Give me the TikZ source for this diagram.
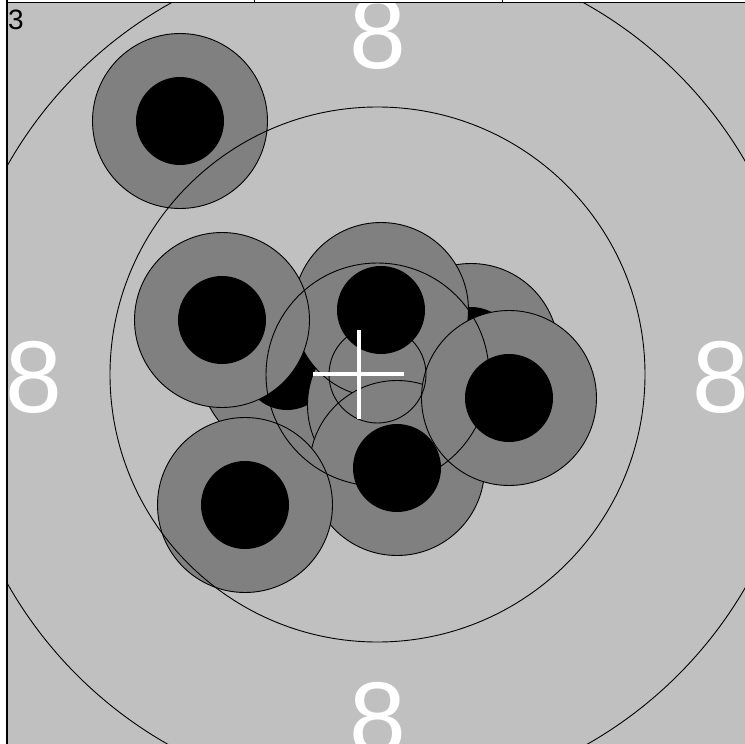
\documentclass[tikz,border=0pt]{standalone}
\usepackage{fontspec}
\setmainfont{Liberation Sans}
\definecolor{lightgr}{gray}{0.7529}
\definecolor{shotgr}{gray}{0.502}
\begin{document}
\begin{tikzpicture}[x=1pt,y=-1pt,
  shotdisc/.style={fill=shotgr, draw=black, line width=0.9pt},
  holedisc/.style={fill=black},
  ringline/.style={draw=black, line width=0.9pt},
  ringlabel/.style={text=white, font=\fontsize{102}{102}\selectfont, inner sep=0pt, anchor=base},
  crossline/.style={draw=white, line width=4pt}]
\useasboundingbox (0,0) rectangle (745,744);
\fill[white] (0,0) rectangle (745,744);
\begin{scope}
  \clip (7,2) rectangle (745,744);
  \fill[lightgr] (7,2) rectangle (745,744);
  % shots, in the order they were drawn
  \foreach \sx/\sy in {180/121, 471/351, 287/366, 395/405, 381/310, 222/320, 397/468, 245/505, 509/398}{
    \filldraw[shotdisc] (\sx,\sy) circle[radius=87.5pt];
    \fill[holedisc] (\sx,\sy) circle[radius=44pt];
  }
  % target rings
  \coordinate (tc) at (377.5,374.5);
  \draw[ringline] (tc) circle[radius=425pt];
  \draw[ringline] (tc) circle[radius=267.5pt];
  \draw[ringline] (tc) circle[radius=111.5pt];
  \draw[ringline] (tc) circle[radius=48.5pt];
  % ring labels
  \node[ringlabel] (ltop) at (378,68) {8};
  \node[ringlabel] (lleft) at (34,412) {8};
  \node[ringlabel] (lright) at (721,412) {8};
  \node[ringlabel] (lbottom) at (378,753) {8};
  % mean point of impact
  \coordinate (mh1) at (313,374.3);
  \coordinate (mh2) at (404.3,374.3);
  \coordinate (mv1) at (359.3,330);
  \coordinate (mv2) at (359.3,419.3);
  \draw[crossline] (mh1) -- (mh2);
  \draw[crossline] (mv1) -- (mv2);
\end{scope}
% frame
\draw[line width=2pt] (7,0) -- (7,744);
\draw[line width=1.3pt] (6,2.6) -- (745,2.6);
\draw[line width=1pt] (254.5,0) -- (254.5,2.6);
\draw[line width=1pt] (502.3,0) -- (502.3,2.6);
\node[inner sep=0pt, anchor=base west, font=\fontsize{28}{28}\selectfont] (num) at (8,29.5) {3};
\end{tikzpicture}
\end{document}
